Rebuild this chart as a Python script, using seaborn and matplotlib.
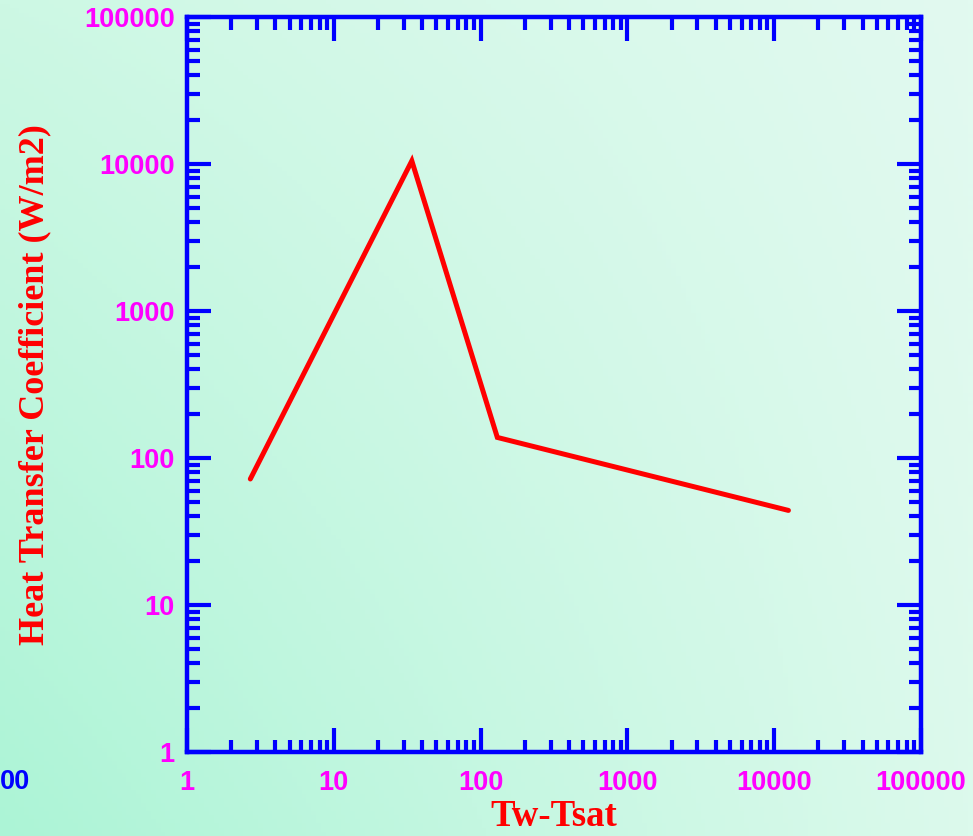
import numpy as np
import pandas as pd
import matplotlib
matplotlib.use("Agg")
import matplotlib.pyplot as plt
import seaborn as sns
from matplotlib.ticker import LogLocator, FixedLocator, NullFormatter

# Data
tw_tsat = [2.7, 34, 130, 12500]
htc = [72, 10500, 138, 44]
tick_vals = [1, 10, 100, 1000, 10000, 100000]
tick_labels = ["1", "10", "100", "1000", "10000", "100000"]

sns.set_style("white")
plt.rcParams['font.family'] = ['Liberation Sans', 'DejaVu Sans']

W, H = 973, 836
fig = plt.figure(figsize=(W / 100, H / 100), dpi=100)

# gradient background
bg = fig.add_axes([0, 0, 1, 1], zorder=-10)
tl = np.array([205, 248, 228]) / 255
tr = np.array([226, 250, 240]) / 255
bl = np.array([172, 244, 214]) / 255
br = np.array([220, 250, 236]) / 255
u = np.linspace(0, 1, 200)[None, :, None]
v = np.linspace(0, 1, 200)[:, None, None]
img = (1 - v) * ((1 - u) * tl + u * tr) + v * ((1 - u) * bl + u * br)
bg.imshow(img, aspect='auto', extent=[0, 1, 0, 1], origin='upper')
bg.axis('off')

ax = fig.add_axes([187 / W, 1 - 752 / H, (921 - 187) / W, (752 - 17) / H])
ax.set_facecolor('none')

df = pd.DataFrame({"Tw-Tsat": tw_tsat, "HTC": htc})
sns.lineplot(data=df, x="Tw-Tsat", y="HTC", ax=ax, color='#ff0000',
             linewidth=3.6, sort=False, solid_joinstyle='miter')

ax.set_xscale('log')
ax.set_yscale('log')
ax.set_xlim(1, 1e5)
ax.set_ylim(1, 1e5)

blue = '#0000ff'
for s in ax.spines.values():
    s.set_color(blue)
    s.set_linewidth(3.2)
    s.set_visible(True)

for axis in (ax.xaxis, ax.yaxis):
    axis.set_major_locator(FixedLocator(tick_vals))
    axis.set_minor_locator(LogLocator(base=10, subs=np.arange(2, 10), numticks=20))
    axis.set_minor_formatter(NullFormatter())
ax.set_xticklabels(tick_labels)
ax.set_yticklabels(tick_labels)

ax.tick_params(which='major', direction='in', length=17, width=3, color=blue,
               top=True, right=True, bottom=True, left=True)
ax.tick_params(which='minor', direction='in', length=9, width=3, color=blue,
               top=True, right=True, bottom=True, left=True)
ax.tick_params(axis='x', which='major', pad=13)
ax.tick_params(axis='y', which='major', pad=9)
for lab in ax.get_xticklabels() + ax.get_yticklabels():
    lab.set_color('#ff00ff')
    lab.set_fontweight('bold')
    lab.set_fontsize(19.5)

serif = ['Liberation Serif', 'DejaVu Serif']
ax.set_xlabel("Tw-Tsat", color='#ff0000', fontweight='bold', fontsize=26.5,
              family=serif)
ax.set_ylabel("Heat Transfer Coefficient (W/m2)", color='#ff0000',
              fontweight='bold', fontsize=26, family=serif)
ax.xaxis.set_label_coords(0.5, (752 - 799) / 735)
ax.yaxis.set_label_coords((51 - 187) / 734, 0.5)

fig.text(0, 1 - 782 / H, "00", color=blue, fontweight='bold', fontsize=19.5,
         ha='left', va='center')

fig.savefig("out.png", dpi=100)
